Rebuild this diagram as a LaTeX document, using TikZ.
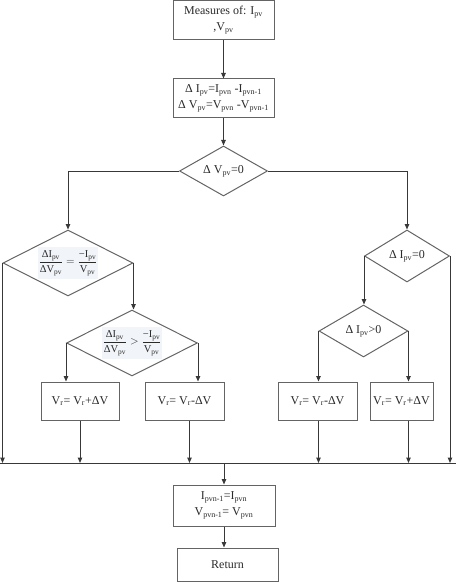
\documentclass[tikz,border=0pt]{standalone}
\usepackage{fontspec}
\setmainfont{Liberation Serif}
\usepackage{amsmath}
\usetikzlibrary{shapes.geometric,arrows.meta}
\definecolor{linecol}{HTML}{383838}
\definecolor{boxcol}{HTML}{646464}
\definecolor{txtcol}{HTML}{2A2A2A}
\definecolor{fracbg}{HTML}{F1F4F9}
\newcommand\sbs[1]{\textsubscript{#1}}
\begin{document}
\begin{tikzpicture}[x=1pt,y=1pt,
  box/.style={draw=boxcol, line width=1pt, rectangle, inner sep=0pt, text=txtcol,
    align=center, font=\fontsize{12}{16}\selectfont},
  dia/.style={draw=boxcol, line width=1pt, diamond, inner sep=0pt, text=txtcol,
    align=center, font=\fontsize{12}{16}\selectfont},
  fracdia/.style={dia, font=\fontsize{10.5}{12}\selectfont},
  arr/.style={draw=linecol, line width=1pt, -{Triangle[length=5.5pt,width=4.5pt]}},
  ln/.style={draw=linecol, line width=1pt}]
\useasboundingbox (0,0) rectangle (456,-583);

\node[box, minimum width=101, minimum height=39] (m) at (223.5,-20.5)
  {Measures of: I\sbs{pv}\\,V\sbs{pv}};
\node[box, minimum width=101, minimum height=39] (dl) at (223.5,-98.5)
  {Δ I\sbs{pv}=I\sbs{pvn} -I\sbs{pvn-1}\\Δ V\sbs{pv}=V\sbs{pvn} -V\sbs{pvn-1}};
\node[dia, minimum width=88, minimum height=50, shape aspect=1.76] (d0) at (223.5,-171)
  {Δ V\sbs{pv}=0};
\node[fracdia, minimum width=130, minimum height=66, shape aspect=2] (dL) at (68,-263)
  {\colorbox{fracbg}{\kern-2pt$\dfrac{\text{ΔI}_{\text{pv}}}{\text{ΔV}_{\text{pv}}}=\dfrac{\text{−I}_{\text{pv}}}{\text{V}_{\text{pv}}}$\kern-2pt}};
\node[dia, minimum width=85, minimum height=52, shape aspect=1.63] (dR) at (407,-256)
  {Δ I\sbs{pv}=0};
\node[fracdia, minimum width=131, minimum height=66, shape aspect=2] (dL2) at (132,-343)
  {\colorbox{fracbg}{\kern-2pt$\dfrac{\text{ΔI}_{\text{pv}}}{\text{ΔV}_{\text{pv}}}>\dfrac{\text{−I}_{\text{pv}}}{\text{V}_{\text{pv}}}$\kern-2pt}};
\node[dia, minimum width=89, minimum height=52, shape aspect=1.71] (dR2) at (363.5,-331)
  {Δ I\sbs{pv}>0};

\node[box, minimum width=78, minimum height=38] (bA) at (80,-401) {V\sbs{r}= V\sbs{r}+ΔV};
\node[box, minimum width=79, minimum height=38] (bB) at (184.5,-401) {V\sbs{r}= V\sbs{r}-ΔV};
\node[box, minimum width=79, minimum height=38] (bC) at (317.5,-401) {V\sbs{r}= V\sbs{r}-ΔV};
\node[box, minimum width=63, minimum height=38] (bD) at (401.5,-401) {V\sbs{r}= V\sbs{r}+ΔV};

\node[box, minimum width=102, minimum height=41] (u) at (224,-505.5)
  {I\sbs{pvn-1}=I\sbs{pvn}\\V\sbs{pvn-1}= V\sbs{pvn}};
\node[box, minimum width=101, minimum height=33] (ret) at (227.5,-564.5) {Return};

\coordinate (busL) at (0,-463);
\coordinate (busR) at (456,-463);

\draw[arr] (m) -- (dl);
\draw[arr] (dl) -- (d0);
\draw[arr] (d0.west) -| (dL.north);
\draw[arr] (d0.east) -| (dR.north);
\draw[arr] (dL.east) -- (dL.east |- dL2.north);
\draw[arr] (dL.west) -- (dL.west |- busL);
\draw[arr] (dL2.west) -- (dL2.west |- bA.north);
\draw[arr] (dL2.east) -- (dL2.east |- bB.north);
\draw[arr] (dR.west) -- (dR.west |- dR2.north);
\draw[arr] (dR.east) -- (dR.east |- busL);
\draw[arr] (dR2.west) -- (dR2.west |- bC.north);
\draw[arr] (dR2.east) -- (dR2.east |- bD.north);
\draw[arr] (bA.south) -- (bA.south |- busL);
\draw[arr] ([xshift=5]bB.south) -- ([xshift=5]bB.south |- busL);
\draw[arr] (dR2.west |- bC.south) -- (dR2.west |- busL);
\draw[arr] (dR2.east |- bD.south) -- (dR2.east |- busL);
\draw[ln] (busL) -- (busR);
\draw[arr] (busL -| u.north) -- (u.north);
\draw[arr] (u.south) -- (u.south |- ret.north);
\end{tikzpicture}
\end{document}
